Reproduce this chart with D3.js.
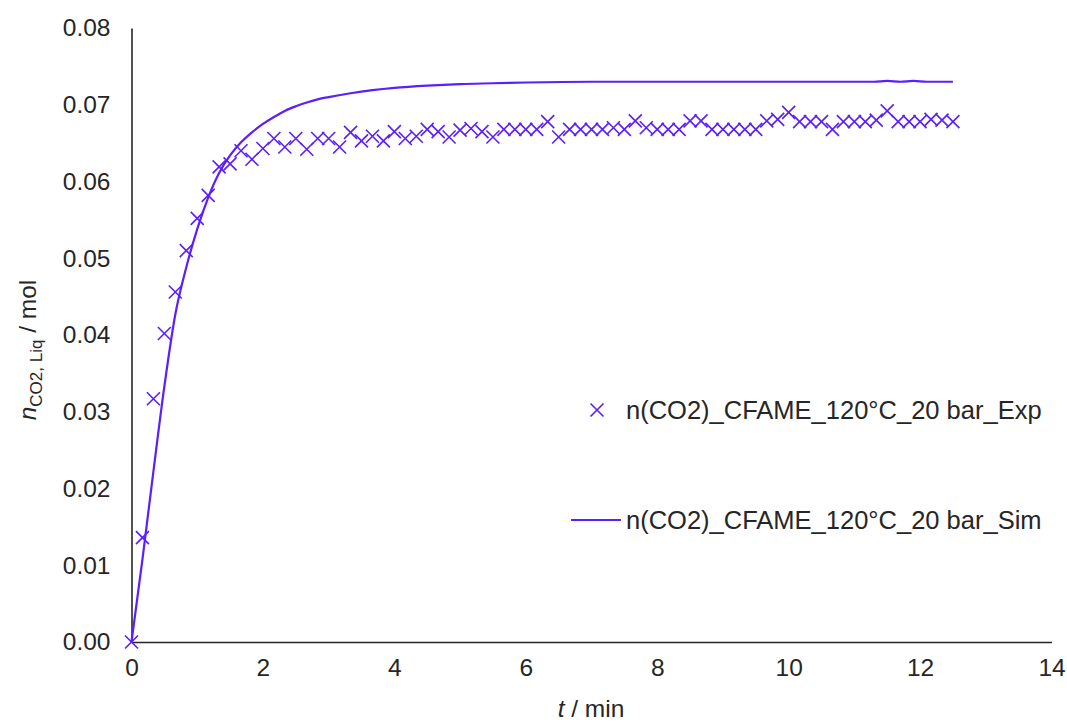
<!DOCTYPE html>
<html>
<head>
<meta charset="utf-8">
<script src="https://cdn.jsdelivr.net/npm/d3@7"></script>
<style>
  html, body { margin: 0; padding: 0; background: #fff; }
  svg { display: block; font-family: "Liberation Sans", Arial, sans-serif; }
</style>
</head>
<body>
<svg id="chart" width="1067" height="723"></svg>
<script>
// ---- Data ----
const expValues = [
  0.0000, 0.0136, 0.0317, 0.0402, 0.0456, 0.0510, 0.0552, 0.0582, 0.0619, 0.0623,
  0.0640, 0.0629, 0.0643, 0.0656, 0.0645, 0.0656, 0.0642, 0.0656, 0.0656, 0.0645,
  0.0664, 0.0653, 0.0659, 0.0653, 0.0665, 0.0656, 0.0659, 0.0668, 0.0665, 0.0658,
  0.0667, 0.0669, 0.0665, 0.0658, 0.0668, 0.0668, 0.0668, 0.0668, 0.0678, 0.0658,
  0.0668, 0.0668, 0.0668, 0.0668, 0.0670, 0.0668, 0.0679, 0.0670, 0.0668, 0.0668,
  0.0668, 0.0679, 0.0679, 0.0668, 0.0668, 0.0668, 0.0668, 0.0668, 0.0679, 0.0681,
  0.0690, 0.0678, 0.0678, 0.0678, 0.0668, 0.0678, 0.0678, 0.0678, 0.0680, 0.0692,
  0.0678, 0.0678, 0.0678, 0.0681, 0.0680, 0.0678
];
const expTimes = expValues.map((_, i) => i / 6); // one sample every 10 s

const simTimes = [0, 0.167, 0.333, 0.5, 0.667, 0.833, 1.0, 1.167, 1.333, 1.5, 1.667, 1.833,
  2.0, 2.167, 2.333, 2.5, 2.667, 2.833, 3.0, 3.333, 3.667, 4.0, 4.5, 5.0, 5.5, 6.0,
  7.0, 8.0, 9.0, 10.0, 11.0, 11.3, 11.5, 11.7, 11.9, 12.1, 12.5];
const simValues = [0, 0.0108, 0.0222, 0.0333, 0.0427, 0.0488, 0.0538, 0.0579, 0.0611, 0.0634, 0.0651, 0.0664,
  0.0675, 0.0684, 0.0692, 0.0698, 0.0703, 0.0707, 0.0710, 0.0715, 0.0719, 0.0722, 0.0725, 0.0727, 0.0728, 0.0729,
  0.0730, 0.0730, 0.0730, 0.0730, 0.0730, 0.0730, 0.0731, 0.0730, 0.0731, 0.0730, 0.0730];

const xTicks = [0, 2, 4, 6, 8, 10, 12, 14];
const yTicks = [0, 0.01, 0.02, 0.03, 0.04, 0.05, 0.06, 0.07, 0.08];
const expLabel = "n(CO2)_CFAME_120°C_20 bar_Exp";
const simLabel = "n(CO2)_CFAME_120°C_20 bar_Sim";

// ---- Layout ----
const color = "#5a1eff";
const axisColor = "#262626";
const textColor = "#262626";
const mLeft = 131.5, mRight = 1051.5, mTop = 28, mBottom = 642;
const fontSize = "24.5px";

const svg = d3.select("#chart");
const x = d3.scaleLinear().domain([0, 14]).range([mLeft, mRight]);
const y = d3.scaleLinear().domain([0, 0.08]).range([mBottom, mTop]);

// axes
const xAxis = d3.axisBottom(x).tickValues(xTicks).tickSize(0).tickPadding(17).tickFormat(d3.format("d"));
const yAxis = d3.axisLeft(y).tickValues(yTicks).tickSize(0).tickPadding(21).tickFormat(d3.format(".2f"));

const gx = svg.append("g").attr("transform", `translate(0,${mBottom})`).call(xAxis);
const gy = svg.append("g").attr("transform", `translate(${mLeft},0)`).call(yAxis);
[gx, gy].forEach(g => {
  g.select(".domain").attr("stroke", axisColor).attr("stroke-width", 1.6);
  g.selectAll("text").attr("fill", textColor).style("font-size", fontSize)
    .style("font-family", '"Liberation Sans", Arial, sans-serif');
});

// sim line
const line = d3.line().x((d, i) => x(simTimes[i])).y(d => y(d)).curve(d3.curveMonotoneX);
svg.append("path").datum(simValues).attr("d", line)
  .attr("fill", "none").attr("stroke", color).attr("stroke-width", 2.2);

// exp markers
const s = 6.5;
const cross = `M${-s},${-s}L${s},${s}M${-s},${s}L${s},${-s}`;
svg.append("g").selectAll("path").data(expValues).join("path")
  .attr("transform", (d, i) => `translate(${x(expTimes[i])},${y(d)})`)
  .attr("d", cross).attr("stroke", color).attr("stroke-width", 1.6).attr("fill", "none");

// axis titles
svg.append("text").attr("x", 591).attr("y", 717).attr("text-anchor", "middle")
  .attr("fill", textColor).style("font-size", fontSize)
  .html('<tspan font-style="italic">t</tspan> / min');

svg.append("text").attr("transform", "translate(36,350) rotate(-90)").attr("text-anchor", "middle")
  .attr("fill", textColor).style("font-size", fontSize)
  .html('<tspan font-style="italic">n</tspan><tspan font-size="17px" dy="6">CO2, Liq</tspan><tspan dy="-6"> / mol</tspan>');

// legend
const lg = svg.append("g");
lg.append("path").attr("transform", "translate(597,410)").attr("d", cross)
  .attr("stroke", color).attr("stroke-width", 1.6).attr("fill", "none");
lg.append("text").attr("x", 626).attr("y", 419).attr("fill", textColor).style("font-size", "25.5px").text(expLabel);
lg.append("line").attr("x1", 571).attr("x2", 621).attr("y1", 520).attr("y2", 520)
  .attr("stroke", color).attr("stroke-width", 2.2);
lg.append("text").attr("x", 626).attr("y", 529).attr("fill", textColor).style("font-size", "25.5px").text(simLabel);
</script>
</body>
</html>
